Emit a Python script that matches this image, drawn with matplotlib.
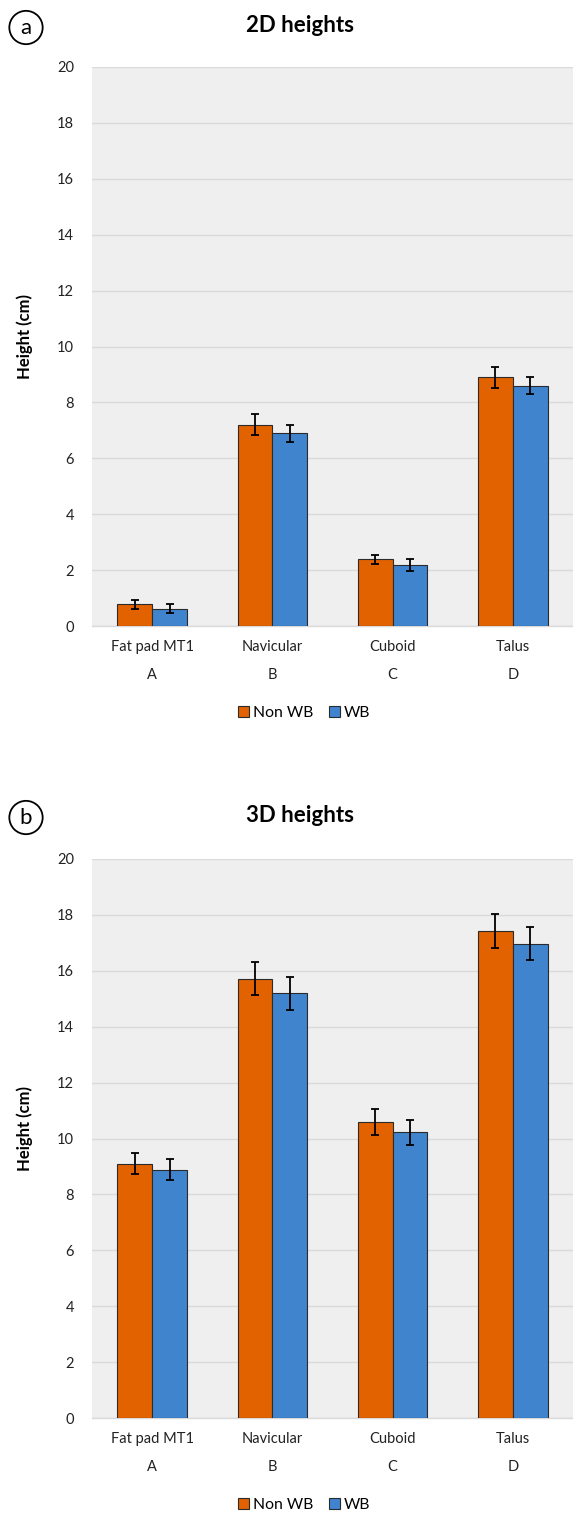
import matplotlib
matplotlib.use("Agg")
import matplotlib.pyplot as plt
import numpy as np

plt.rcParams['font.family'] = ['Lato', 'DejaVu Sans']

# data
categories = ["Fat pad MT1", "Navicular", "Cuboid", "Talus"]
letters = ["A", "B", "C", "D"]
series = ["Non WB", "WB"]

h2d_nonwb = [0.77, 7.20, 2.38, 8.90]
h2d_wb = [0.62, 6.90, 2.17, 8.60]
err2d_nonwb = [0.15, 0.38, 0.17, 0.37]
err2d_wb = [0.15, 0.30, 0.22, 0.30]

h3d_nonwb = [9.10, 15.72, 10.59, 17.42]
h3d_wb = [8.88, 15.19, 10.22, 16.97]
err3d_nonwb = [0.38, 0.60, 0.46, 0.60]
err3d_wb = [0.37, 0.60, 0.45, 0.60]

yticks = list(range(0, 21, 2))

c_orange = "#E26200"
c_blue = "#3F84CD"
bg = "#EFEFEF"
gridc = "#DADADA"

fig = plt.figure(figsize=(5.73, 15.14), dpi=100)


def draw_panel(rect, vals_a, vals_b, err_a, err_b, title, tag, title_y):
    ax = fig.add_axes(rect)
    ax.set_facecolor(bg)
    x = np.arange(len(categories))
    w = 0.29
    ekw = dict(ecolor="black", elinewidth=1.3, capthick=1.3)
    ax.bar(x - w / 2, vals_a, w, yerr=err_a, capsize=3.2, color=c_orange,
           edgecolor="#2b2b2b", linewidth=0.8, error_kw=ekw, label=series[0], zorder=3)
    ax.bar(x + w / 2, vals_b, w, yerr=err_b, capsize=3.2, color=c_blue,
           edgecolor="#2b2b2b", linewidth=0.8, error_kw=ekw, label=series[1], zorder=3)
    ax.set_xlim(-0.5, 3.5)
    ax.set_ylim(0, 20)
    ax.set_yticks(yticks)
    ax.grid(axis="y", color=gridc, linewidth=1, zorder=0)
    ax.set_axisbelow(True)
    for s in ["top", "right", "left"]:
        ax.spines[s].set_visible(False)
    ax.spines["bottom"].set_color(gridc)
    ax.spines["bottom"].set_linewidth(1)
    ax.tick_params(axis="both", length=0, labelsize=10.5, colors="#222222")
    ax.tick_params(axis="y", pad=13)
    ax.tick_params(axis="x", pad=10)
    ax.set_xticks(x)
    ax.set_xticklabels(categories)
    trans = ax.get_xaxis_transform()
    for xi, lt in zip(x, letters):
        ax.text(xi, -0.088, lt, transform=trans, ha="center", va="center",
                fontsize=10.5, color="#222222")
    ax.set_ylabel("Height (cm)", fontsize=12, fontweight="bold")
    ax.yaxis.set_label_coords(-0.122, 0.517)
    fig.text(300 / 573, title_y, title, ha="center", va="center",
             fontsize=16, fontweight="bold")
    fig.text(26 / 573, title_y - 0.001, tag, ha="center", va="center", fontsize=16,
             bbox=dict(boxstyle="circle,pad=0.3", facecolor="white",
                       edgecolor="black", linewidth=1.3))
    return ax


ax1 = draw_panel([92 / 573, 1 - 626 / 1514, 481 / 573, 559 / 1514],
                 h2d_nonwb, h2d_wb, err2d_nonwb, err2d_wb,
                 "2D heights", "a", 1 - 26 / 1514)
ax2 = draw_panel([92 / 573, 1 - 1418 / 1514, 481 / 573, 559 / 1514],
                 h3d_nonwb, h3d_wb, err3d_nonwb, err3d_wb,
                 "3D heights", "b", 1 - 816 / 1514)

for ax, ly in [(ax1, 1 - 713 / 1514), (ax2, 1 - 1505 / 1514)]:
    ax.legend(loc="center", bbox_to_anchor=(304 / 573, ly),
              bbox_transform=fig.transFigure, ncol=2, frameon=False,
              fontsize=11.3, handlelength=0.7, handleheight=0.7,
              handletextpad=0.25, columnspacing=1.0)

fig.savefig("out.png", dpi=100)
